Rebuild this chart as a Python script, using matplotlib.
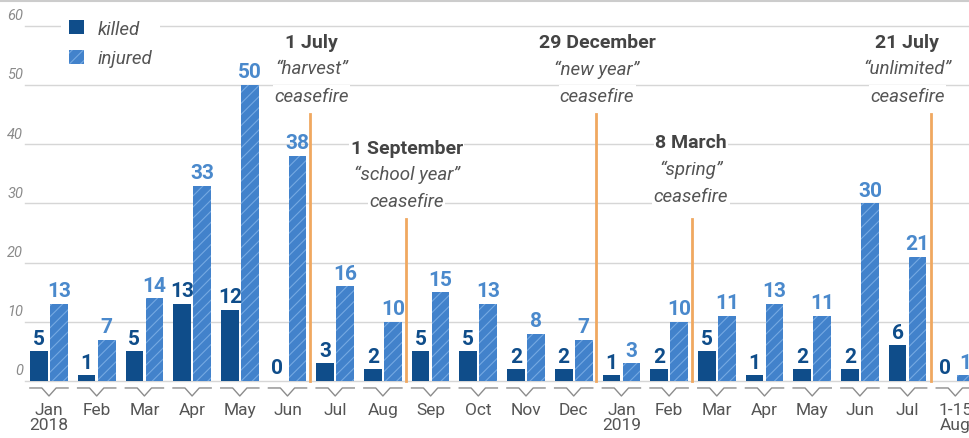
import numpy as np
import matplotlib
matplotlib.use('Agg')
import matplotlib.pyplot as plt
from matplotlib.lines import Line2D

plt.rcParams['font.family'] = ['Roboto', 'DejaVu Sans']
plt.rcParams['hatch.linewidth'] = 0.8

# datos
months = ['Jan\n2018', 'Feb', 'Mar', 'Apr', 'May', 'Jun', 'Jul', 'Aug', 'Sep', 'Oct',
          'Nov', 'Dec', 'Jan\n2019', 'Feb', 'Mar', 'Apr', 'May', 'Jun', 'Jul', '1-15\nAug']
killed = [5, 1, 5, 13, 12, 0, 3, 2, 5, 5, 2, 2, 1, 2, 5, 1, 2, 2, 6, 0]
injured = [13, 7, 14, 33, 50, 38, 16, 10, 15, 13, 8, 7, 3, 10, 11, 13, 11, 30, 21, 1]
yticks = [0, 10, 20, 30, 40, 50, 60]

# ceasefires: position between months, line top, text
cf_x = [5.47, 7.48, 11.47, 13.47, 18.49]
cf_top = [45.1, 27.4, 45.1, 27.4, 45.1]
cf_date = ['1 July', '1 September', '29 December', '8 March', '21 July']
cf_name = ['\u201charvest\u201d', '\u201cschool year\u201d', '\u201cnew year\u201d',
           '\u201cspring\u201d', '\u201cunlimited\u201d']
cf_textx = [5.51, 7.5, 11.49, 13.46, 17.99]
cf_texty = [57.2, 39.4, 57.2, 40.3, 57.2]

c_killed = '#0f4d8a'
c_inj = '#4282cb'
c_hatch = '#75a9e2'
c_lab_inj = '#4a89cc'

fig = plt.figure(figsize=(9.7, 4.39), dpi=100)
ax = fig.add_axes([0, 0, 1, 1])
ax.set_xlim(-1.027, 19.308)
ax.set_ylim(-9.63, 64.53)
ax.axis('off')

x = np.arange(len(months))
w = 0.37
off = 0.21

# grid
for v in yticks:
    ax.plot([-0.503, 19.4], [v, v], color='#d6d6d6', lw=1, zorder=0)
    ax.text(-0.54, v + 0.6, str(v), ha='right', va='bottom', fontsize=10.5,
            style='italic', color='#8a8a8a')

b1 = ax.bar(x - off, killed, w, color=c_killed, lw=0, zorder=2, label='killed')
b2 = ax.bar(x + off, injured, w, color=c_inj, edgecolor=c_hatch, hatch='///',
            lw=0, zorder=2, label='injured')

for i in range(len(months)):
    ax.text(x[i] - off, killed[i] + 0.6, str(killed[i]), ha='center', va='bottom',
            fontsize=15, fontweight='bold', color=c_killed, zorder=4)
    ax.text(x[i] + off, injured[i] + 0.6, str(injured[i]), ha='center', va='bottom',
            fontsize=15, fontweight='bold', color=c_lab_inj, zorder=4)
    # bracket under each month
    ax.plot([x[i] - 0.4, x[i] - 0.15, x[i], x[i] + 0.15, x[i] + 0.4],
            [-1.18, -1.18, -2.53, -1.18, -1.18], color='#8c8c8c', lw=1)
    ax.text(x[i], -3.6, months[i], ha='center', va='top', fontsize=12.5,
            color='#555555', linespacing=0.98)

# ceasefire lines + labels
for j in range(len(cf_x)):
    ax.plot([cf_x[j], cf_x[j]], [0, cf_top[j]], color='#f0a860', lw=2, zorder=3)
    bb = dict(facecolor='white', edgecolor='none', pad=1)
    ax.text(cf_textx[j], cf_texty[j], cf_date[j], ha='center', va='center',
            fontsize=14, fontweight='bold', color='#444444', bbox=bb, zorder=5)
    ax.text(cf_textx[j], cf_texty[j] - 4.4, cf_name[j], ha='center', va='center',
            fontsize=13.5, style='italic', color='#555555', bbox=bb, zorder=5)
    ax.text(cf_textx[j], cf_texty[j] - 9.0, 'ceasefire', ha='center', va='center',
            fontsize=13.5, style='italic', color='#555555', bbox=bb, zorder=5)

leg = ax.legend(handles=[b1, b2], loc='upper left', bbox_to_anchor=(52 / 970, 1 - 4 / 439),
                frameon=True, facecolor='white', edgecolor='none', framealpha=1,
                handlelength=0.78, handleheight=0.78, handletextpad=0.75,
                labelspacing=0.6, borderpad=0.4, fancybox=False,
                prop={'size': 13.5, 'style': 'italic'}, labelcolor='#555555')
leg.set_zorder(5)

# top rule
fig.add_artist(Line2D([0, 1], [1 - 1.5 / 439, 1 - 1.5 / 439], color='#cccccc', lw=1.5))

plt.savefig('out.png', dpi=100)
